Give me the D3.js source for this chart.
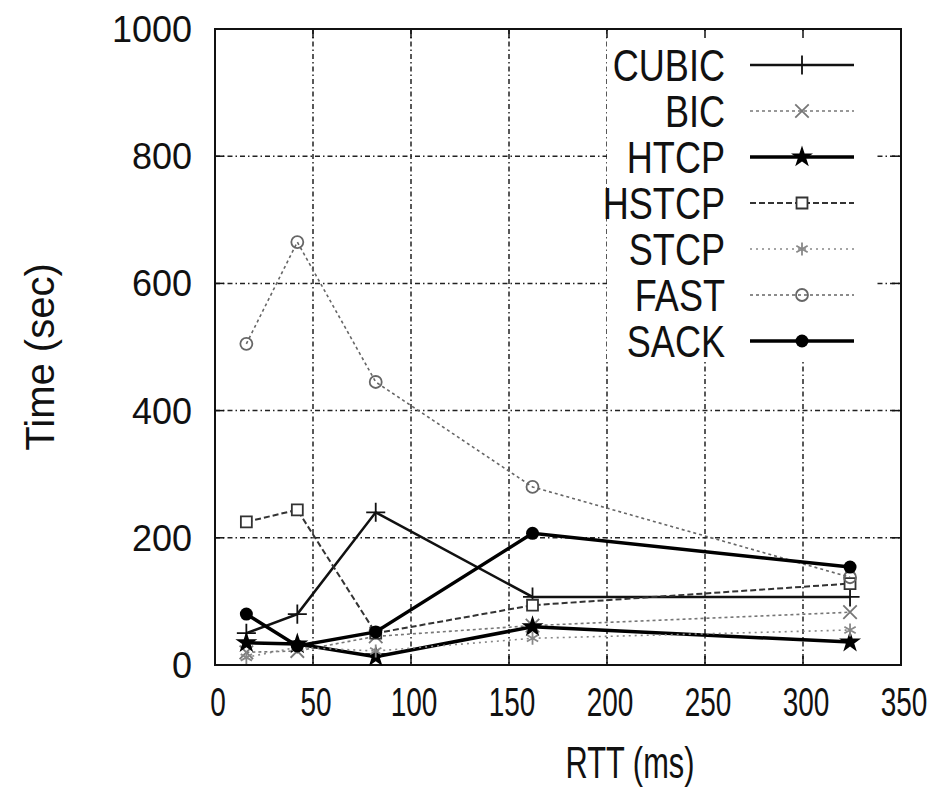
<!DOCTYPE html>
<html>
<head>
<meta charset="utf-8">
<script src="https://cdn.jsdelivr.net/npm/d3@7"></script>
<style>
  body { margin: 0; background: #fff; }
  text { font-family: "Liberation Sans", Arial, sans-serif; fill: #111; }
</style>
</head>
<body>
<svg id="chart" width="942" height="806"></svg>
<script>
// values
var rtt = [16, 42, 82, 162, 324];
var names = ["CUBIC", "BIC", "HTCP", "HSTCP", "STCP", "FAST", "SACK"];
var cubic = [50, 80, 240, 107, 107];
var bic   = [20, 22, 45, 62, 83];
var htcp  = [35, 33, 13, 60, 36];
var hstcp = [225, 244, 50, 94, 128];
var stcp  = [12, 28, 22, 42, 55];
var fast  = [505, 665, 445, 280, 138];
var sack  = [80, 30, 52, 207, 154];
var xTicks = [0, 50, 100, 150, 200, 250, 300, 350];
var yTicks = [0, 200, 400, 600, 800, 1000];

var values = [cubic, bic, htcp, hstcp, stcp, fast, sack];

// line look per series (gnuplot mono style)
var styles = [
  {stroke: "#111", width: 2.5, dash: null,  sym: "plus"},
  {stroke: "#777", width: 1.6, dash: "3,3", sym: "times"},
  {stroke: "#000", width: 3.5, dash: null,  sym: "star"},
  {stroke: "#333", width: 2,   dash: "6,3", sym: "square"},
  {stroke: "#888", width: 1.6, dash: "2,4", sym: "asterisk"},
  {stroke: "#666", width: 1.6, dash: "3,3", sym: "circle"},
  {stroke: "#000", width: 3.5, dash: null,  sym: "dot"}
];

var svg = d3.select("#chart");
var pLeft = 215, pRight = 901, pTop = 29, pBottom = 665;

var x = d3.scaleLinear().domain([0, 350]).range([pLeft, pRight]);
var y = d3.scaleLinear().domain([0, 1000]).range([pBottom, pTop]);

// grid
var grid = svg.append("g").attr("class", "grid");
grid.selectAll(".gx")
  .data(xTicks.slice(1, -1))
  .enter().append("line")
    .attr("x1", function(d){ return x(d); })
    .attr("x2", function(d){ return x(d); })
    .attr("y1", pTop).attr("y2", pBottom)
    .attr("stroke", "#222").attr("stroke-width", 1.5)
    .attr("stroke-dasharray", "5,3,1.5,3");
grid.selectAll(".gy")
  .data(yTicks.slice(1, -1))
  .enter().append("line")
    .attr("y1", function(d){ return y(d); })
    .attr("y2", function(d){ return y(d); })
    .attr("x1", pLeft).attr("x2", pRight)
    .attr("stroke", "#222").attr("stroke-width", 1.5)
    .attr("stroke-dasharray", "5,3,1.5,3");

// legend background hides the grid behind the key
svg.append("rect")
  .attr("x", 607).attr("y", pTop + 2)
  .attr("width", 270).attr("height", 331)
  .attr("fill", "#fff");

// inner ticks on all four sides
var ticks = svg.append("g").attr("stroke", "#111").attr("stroke-width", 1.5);
xTicks.forEach(function(d){
  ticks.append("line").attr("x1", x(d)).attr("x2", x(d)).attr("y1", pBottom).attr("y2", pBottom - 9);
  ticks.append("line").attr("x1", x(d)).attr("x2", x(d)).attr("y1", pTop).attr("y2", pTop + 9);
});
yTicks.forEach(function(d){
  ticks.append("line").attr("y1", y(d)).attr("y2", y(d)).attr("x1", pLeft).attr("x2", pLeft + 9);
  ticks.append("line").attr("y1", y(d)).attr("y2", y(d)).attr("x1", pRight).attr("x2", pRight - 9);
});

// frame
svg.append("rect")
  .attr("x", pLeft).attr("y", pTop)
  .attr("width", pRight - pLeft).attr("height", pBottom - pTop)
  .attr("fill", "none").attr("stroke", "#111").attr("stroke-width", 2);

// tick labels
svg.selectAll(".xl")
  .data(xTicks)
  .enter().append("text")
    .attr("transform", function(d){ return "translate(" + (x(d) + 3) + "," + 716 + ") scale(0.7,1)"; })
    .attr("text-anchor", "middle")
    .style("font-size", "40px")
    .text(function(d){ return d; });
svg.selectAll(".yl")
  .data(yTicks)
  .enter().append("text")
    .attr("x", 192)
    .attr("y", function(d){ return y(d) + 13; })
    .attr("text-anchor", "end")
    .style("font-size", "36px")
    .text(function(d){ return d; });

// axis titles
svg.append("text")
  .attr("transform", "translate(630,778) scale(0.7,1)")
  .attr("text-anchor", "middle")
  .style("font-size", "44px")
  .text("RTT (ms)");
svg.append("text")
  .attr("transform", "translate(54,357) rotate(-90)")
  .attr("text-anchor", "middle")
  .style("font-size", "40px")
  .text("Time (sec)");

function marker(g, kind, cx, cy, st) {
  var s;
  if (kind === "dot") {
    g.append("circle").attr("cx", cx).attr("cy", cy).attr("r", 6.5).attr("fill", "#000");
    return;
  }
  if (kind === "circle") {
    g.append("circle").attr("cx", cx).attr("cy", cy).attr("r", 6)
      .attr("fill", "none").attr("stroke", st.stroke).attr("stroke-width", 1.8);
    return;
  }
  var types = {plus: d3.symbolPlus, times: d3.symbolTimes, star: d3.symbolStar,
               square: d3.symbolSquare, asterisk: d3.symbolAsterisk};
  s = d3.symbol().type(types[kind]).size(kind === "star" ? 150 : 120);
  var p = g.append("path").attr("d", s()).attr("transform", "translate(" + cx + "," + cy + ")");
  if (kind === "star") p.attr("fill", "#000");
  else if (kind === "square") p.attr("fill", "#fff").attr("stroke", st.stroke).attr("stroke-width", 1.8);
  else p.attr("fill", "none").attr("stroke", st.stroke).attr("stroke-width", 1.8);
}

var line = d3.line()
  .x(function(d){ return x(d[0]); })
  .y(function(d){ return y(d[1]); });

var plot = svg.append("g");
values.forEach(function(vals, i){
  var st = styles[i];
  var pts = rtt.map(function(r, j){ return [r, vals[j]]; });
  plot.append("path")
    .attr("d", line(pts))
    .attr("fill", "none")
    .attr("stroke", st.stroke)
    .attr("stroke-width", st.width)
    .attr("stroke-dasharray", st.dash);
  pts.forEach(function(p){ marker(plot, st.sym, x(p[0]), y(p[1]), st); });
});

// key
var key = svg.append("g");
names.forEach(function(n, i){
  var st = styles[i], ky = 65 + i * 46;
  key.append("text")
    .attr("transform", "translate(725," + (ky + 16) + ") scale(0.82,1)")
    .attr("text-anchor", "end")
    .style("font-size", "44px")
    .text(n);
  key.append("line")
    .attr("x1", 750).attr("x2", 854).attr("y1", ky).attr("y2", ky)
    .attr("stroke", st.stroke).attr("stroke-width", st.width)
    .attr("stroke-dasharray", st.dash);
  marker(key, st.sym, 802, ky, st);
});
</script>
</body>
</html>
